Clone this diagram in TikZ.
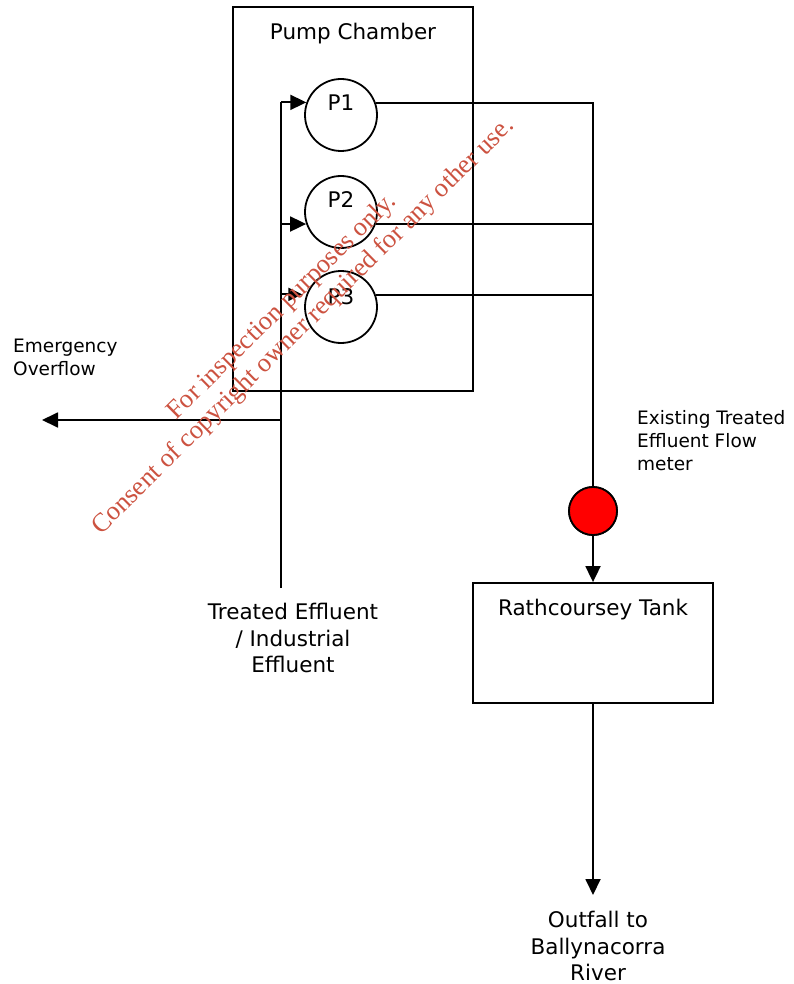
\documentclass[tikz,border=0pt]{standalone}
\usepackage{fontspec}
\usepackage{xcolor}
\setmainfont{DejaVu Sans}
\newfontfamily\markfont{Liberation Serif}
\usetikzlibrary{arrows.meta,positioning,calc}
\definecolor{ink}{HTML}{000000}
\definecolor{stamp}{HTML}{CC5240}
\definecolor{meterred}{HTML}{FF0000}
\tikzset{
  >={Triangle[length=16pt,width=15pt]},
  box/.style={draw=ink,fill=white,line width=1.8pt,minimum width=240pt,inner sep=0pt},
  pump/.style={circle,draw=ink,fill=white,line width=1.8pt,minimum size=72pt,inner sep=0pt},
  meter/.style={circle,draw=ink,fill=meterred,line width=1.8pt,minimum size=48pt,inner sep=0pt},
  flow/.style={->,line width=1.8pt,color=ink},
  pipe/.style={line width=1.8pt,color=ink},
  biglabel/.style={font=\fontsize{21.5}{26.5}\selectfont,align=center,inner sep=0pt},
  smalllabel/.style={font=\fontsize{18.5}{23}\selectfont,align=left,anchor=west,inner sep=0pt},
  watermark/.style={font=\markfont\fontsize{26.4}{30}\selectfont,text=stamp,rotate=44.6,inner sep=0pt},
}
\begin{document}
\begin{tikzpicture}[x=1pt,y=-1pt]
  \useasboundingbox (0,0) rectangle (793,984);
  % chamber and pumps
  \node[box,minimum height=384pt] (chamber) at (353,199) {};
  \node[pump] (P1) at (341,115) {};
  \node[pump] (P2) at (341,212) {};
  \node[pump] (P3) at (341,307) {};
  \node[biglabel] (chamberlabel) at (353,33.5) {Pump Chamber};
  \node[biglabel] (P1label) at (341,103) {P1};
  \node[biglabel] (P2label) at (341,200) {P2};
  \node[biglabel] (P3label) at (341,297) {P3};

  % tank and meter
  \node[box,minimum height=120pt] (tank) at (593,643) {};
  \node[biglabel] (tanklabel) at (593,609.5) {Rathcoursey Tank};
  \node[meter] (flowmeter) at (593,511) {};
  \node[smalllabel] (meterlabel) at (637,441) {Existing Treated\\Effluent Flow\\meter};

  % free ends
  \coordinate (inlet) at (281,588);
  \coordinate (overflowend) at (42,420);
  \coordinate (overflowtee) at (281,420);
  \coordinate (outfallend) at (593,895);
  \node[biglabel] (inletlabel) at (293,638) {Treated Effluent\\/ Industrial\\Effluent};
  \node[smalllabel] (overflowlabel) at (13,357) {Emergency\\Overflow};
  \node[biglabel] (outfalllabel) at (598,946) {Outfall to\\Ballynacorra\\River};

  % inlet side
  \draw[pipe] (inlet) -- (inlet |- P1.160);
  \draw[flow] (inlet |- P1.160) -- (P1.160);
  \draw[flow] (inlet |- P2.199) -- (P2.199);
  \draw[flow,>={Triangle[length=14pt,width=13pt]}] (inlet |- P3.160) -- ($(P3.160)+(-4,0)$);
  \draw[flow] (overflowtee) -- (overflowend);

  % discharge side
  \draw[pipe] (P1.19.5) -| (flowmeter.north);
  \draw[pipe] (P2.-19) -- (P2.-19 -| flowmeter);
  \draw[pipe] (P3.19.5) -- (P3.19.5 -| flowmeter);
  \draw[flow] (flowmeter) -- (tank);
  \draw[flow] (tank) -- (outfallend);
  \node[meter] at (flowmeter) {};

  % stamp across the drawing
  \node[watermark] (stampone) at (282.5,307) {For inspection purposes only.};
  \node[watermark] (stamptwo) at (303.5,326.5) {Consent of copyright owner required for any other use.};
\end{tikzpicture}
\end{document}
